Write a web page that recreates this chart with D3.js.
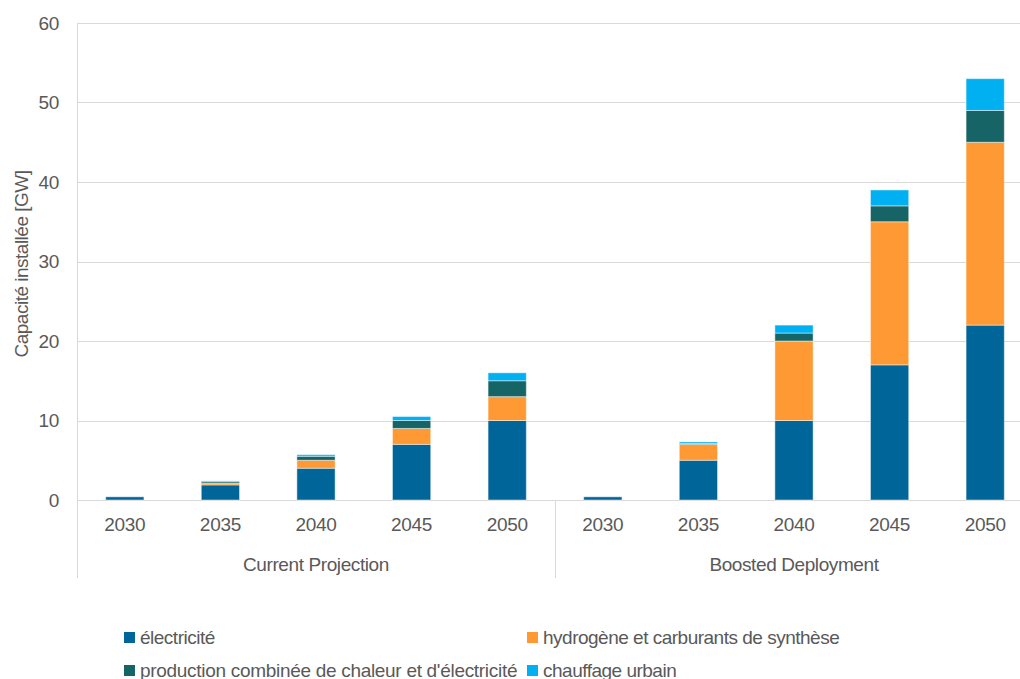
<!DOCTYPE html>
<html>
<head>
<meta charset="utf-8">
<script src="https://cdn.jsdelivr.net/npm/d3@7"></script>
<style>
  body { margin: 0; background: #fff; }
  text { font-family: "Liberation Sans", Arial, sans-serif; fill: #595959; }
</style>
</head>
<body>
<svg id="chart" width="1020" height="679"></svg>
<script>
// scenario groups and years
var groups = ["Current Projection", "Boosted Deployment"];
var years = ["2030", "2035", "2040", "2045", "2050"];

// series (GW), per group then year
var electricite = [0.4, 1.9, 4, 7, 10, 0.4, 5, 10, 17, 22];
var hydrogene = [0, 0.2, 1, 2, 3, 0, 2, 10, 18, 23];
var cogeneration = [0, 0.2, 0.5, 1, 2, 0, 0.1, 1, 2, 4];
var chauffage = [0, 0.1, 0.2, 0.5, 1, 0, 0.2, 1, 2, 4];

var seriesNames = ["électricité", "hydrogène et carburants de synthèse",
  "production combinée de chaleur et d'électricité", "chauffage urbain"];
var seriesColors = ["#006699", "#ff9933", "#176466", "#00b0f0"];
var yTicks = [0, 10, 20, 30, 40, 50, 60];

var svg = d3.select("#chart");
var plotLeft = 77, plotRight = 1033, plotTop = 23, plotBottom = 500;

// build rows for the stack
var rows = [];
groups.forEach(function(g, gi) {
  years.forEach(function(yr, yi) {
    var i = gi * years.length + yi;
    rows.push({ group: g, year: yr, s0: electricite[i], s1: hydrogene[i], s2: cogeneration[i], s3: chauffage[i] });
  });
});

var y = d3.scaleLinear().domain([0, 60]).range([plotBottom, plotTop]);
var x0 = d3.scaleBand().domain(groups).range([plotLeft, plotRight]);
var x1 = d3.scaleBand().domain(years).range([0, x0.bandwidth()]).paddingInner(0.6).paddingOuter(0.3);

// gridlines
svg.append("g").selectAll("line").data(yTicks).enter().append("line")
  .attr("x1", plotLeft).attr("x2", 1020)
  .attr("y1", function(d) { return Math.round(y(d)) + 0.5; }).attr("y2", function(d) { return Math.round(y(d)) + 0.5; })
  .attr("stroke", "#d9d9d9").attr("stroke-width", 1);

// y tick labels
svg.append("g").selectAll("text").data(yTicks).enter().append("text")
  .attr("x", 59).attr("y", function(d) { return y(d); })
  .attr("dy", "0.35em").attr("text-anchor", "end")
  .attr("font-size", 19).attr("letter-spacing", -0.3)
  .text(function(d) { return d; });

// axis lines
svg.append("line").attr("x1", plotLeft + 0.5).attr("x2", plotLeft + 0.5).attr("y1", plotTop).attr("y2", 578)
  .attr("stroke", "#d9d9d9");
svg.append("line").attr("x1", x0(groups[1]) + 0.5).attr("x2", x0(groups[1]) + 0.5).attr("y1", plotBottom).attr("y2", 578)
  .attr("stroke", "#d9d9d9");

// y title
svg.append("text")
  .attr("transform", "translate(21,264) rotate(-90)")
  .attr("dy", "0.35em")
  .attr("text-anchor", "middle").attr("font-size", 19).attr("letter-spacing", -0.5)
  .text("Capacité installée [GW]");

// stacked bars
var stack = d3.stack().keys(["s0", "s1", "s2", "s3"]);
var layers = stack(rows);

svg.append("g").selectAll("g").data(layers).enter().append("g")
  .attr("fill", function(d, i) { return seriesColors[i]; })
  .selectAll("rect").data(function(d) { return d.filter(function(p) { return p[1] - p[0] > 0; }); }).enter().append("rect")
  .attr("x", function(d) { return x0(d.data.group) + x1(d.data.year); })
  .attr("width", x1.bandwidth())
  .attr("y", function(d) { return y(d[1]); })
  .attr("height", function(d) { return y(d[0]) - y(d[1]); })
  .attr("stroke", "rgba(255,255,255,0.45)").attr("stroke-width", 1);

// year labels
svg.append("g").selectAll("text").data(rows).enter().append("text")
  .attr("x", function(d) { return x0(d.group) + x1(d.year) + x1.bandwidth() / 2; })
  .attr("y", 524).attr("dy", "0.35em").attr("text-anchor", "middle")
  .attr("font-size", 19).attr("letter-spacing", -0.3)
  .text(function(d) { return d.year; });

// group labels
svg.append("g").selectAll("text").data(groups).enter().append("text")
  .attr("x", function(d, i) { return i == 0 ? x0(d) + x0.bandwidth() / 2 : 794; })
  .attr("y", 564).attr("dy", "0.35em").attr("text-anchor", "middle")
  .attr("font-size", 19).attr("letter-spacing", -0.4)
  .text(function(d) { return d; });

// legend
var legendPos = [[124, 637], [527, 637], [124, 670], [527, 670]];
var legend = svg.append("g").selectAll("g").data(seriesNames).enter().append("g")
  .attr("transform", function(d, i) { return "translate(" + legendPos[i][0] + "," + legendPos[i][1] + ")"; });
legend.append("rect").attr("x", 0).attr("y", -5).attr("width", 11).attr("height", 11)
  .attr("fill", function(d, i) { return seriesColors[i]; });
legend.append("text").attr("x", 16).attr("y", 0).attr("dy", "0.35em")
  .attr("font-size", 19).attr("letter-spacing", function(d, i) { return i == 2 ? -0.3 : -0.5; })
  .text(function(d) { return d; });
</script>
</body>
</html>
